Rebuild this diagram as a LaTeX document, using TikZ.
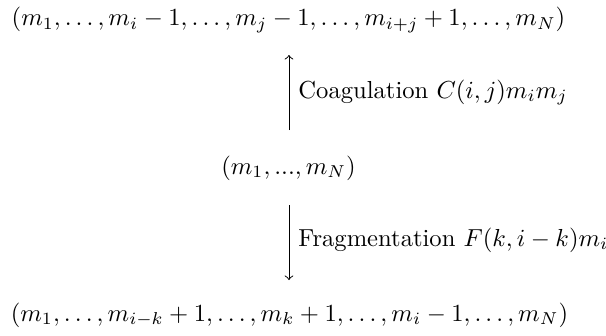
\documentclass[tikz,border=0pt]{standalone}
\usepackage{amsmath}
\begin{document}
\begin{tikzpicture}[x=0.4065pt,y=-0.4065pt,
  lbl/.style={inner sep=0pt,anchor=base west},
  st/.style={inner sep=0pt,anchor=base},
  arr/.style={->,line width=0.4pt}]
\useasboundingbox (0,0) rectangle (606,335);
\node[st] (top) at (288.5,25.5) {$(m_1,\ldots,m_i-1,\ldots,m_j-1,\ldots,m_{i+j}+1,\ldots,m_N)$};
\node[st] (mid) at (288.5,174) {$(m_1,...,m_N)$};
\node[st] (bot) at (289.5,321) {$(m_1,\ldots,m_{i-k}+1,\ldots,m_k+1,\ldots,m_i-1,\ldots,m_N)$};
\coordinate (a1) at (289,130);
\coordinate (a2) at (289,55);
\coordinate (b1) at (289,205);
\coordinate (b2) at (289,280);
\draw[arr] (a1) -- (a2);
\draw[arr] (b1) -- (b2);
\node[lbl] (cl) at (298,98) {Coagulation $C(i,j)m_im_j$};
\node[lbl] (fl) at (298,246) {Fragmentation $F(k,i-k)m_i$};
\end{tikzpicture}
\end{document}
